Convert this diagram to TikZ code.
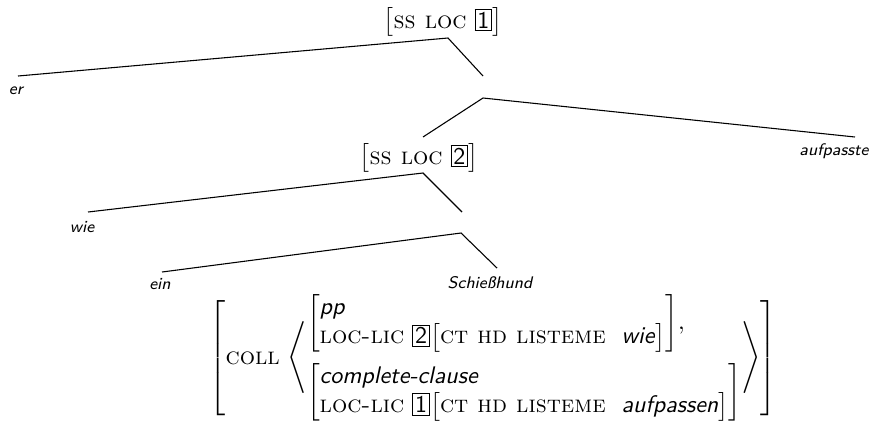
\documentclass[tikz,border=0pt]{standalone}
\usepackage{fontspec}
\usepackage{amsmath}
\newcommand{\tagbox}[1]{{\setlength{\fboxsep}{0.8pt}\setlength{\fboxrule}{0.4pt}\fbox{\sffamily #1}}}
\newcommand{\sfit}[1]{\textsf{\itshape #1}}
\newcommand{\fsc}[1]{\text{\textsc{#1}}}
\tikzset{
  lbl/.style={inner sep=0pt, outer sep=0pt},
  leaf/.style={inner sep=0pt, outer sep=0pt, font=\scriptsize\sffamily\itshape},
  branch/.style={line width=0.45pt, black}
}
\begin{document}
\begin{tikzpicture}[x=0.4167pt, y=-0.4167pt]
\useasboundingbox (0,0) rectangle (887,423);
% root
\node[lbl] (root) at (443,22) {$\bigl[\fsc{ss loc}\ \text{\tagbox{1}}\bigr]$};
\coordinate (rootapex) at (448,38);
\coordinate (erend) at (18,76);
\node[leaf] (er) at (16,91) {er};
\coordinate (n1top) at (483,76);
\coordinate (n1bot) at (483,98);
\coordinate (aufend) at (855,137);
\node[leaf] (auf) at (834,151) {aufpasste};
% node 2
\coordinate (n2top) at (423,137);
\node[lbl] (two) at (419,158) {$\bigl[\fsc{ss loc}\ \text{\tagbox{2}}\bigr]$};
\coordinate (n2apex) at (423,173);
\coordinate (wieend) at (88,212);
\node[leaf] (wie) at (82,227) {wie};
\coordinate (n3top) at (462,212);
\coordinate (n3bot) at (461,233);
\coordinate (einend) at (162,272);
\node[leaf] (ein) at (160,284) {ein};
\coordinate (schend) at (497,268);
\node[leaf] (sch) at (490,283) {Schießhund};
% branches
\draw[branch] (erend) -- (rootapex) -- (n1top);
\draw[branch] (n2top) -- (n1bot) -- (aufend);
\draw[branch] (wieend) -- (n2apex) -- (n3top);
\draw[branch] (einend) -- (n3bot) -- (schend);
% AVM
\node[lbl] (avm) at (493,358) {$\left[\begin{array}{@{}l@{}}
\fsc{coll}\ {\left\langle\begin{array}{@{}l@{}}
{\left[\begin{array}{@{}l@{}}\text{\sfit{pp}}\\ \fsc{loc-lic}\ \text{\tagbox{2}}\bigl[\fsc{ct hd listeme}\ \ \text{\sfit{wie}}\bigr]\end{array}\right]},\\ \noalign{\vskip 4.5pt}
{\left[\begin{array}{@{}l@{}}\text{\sfit{complete-clause}}\\ \fsc{loc-lic}\ \text{\tagbox{1}}\bigl[\fsc{ct hd listeme}\ \ \text{\sfit{aufpassen}}\bigr]\end{array}\right]}
\end{array}\right\rangle}
\end{array}\right]$};
\end{tikzpicture}
\end{document}
